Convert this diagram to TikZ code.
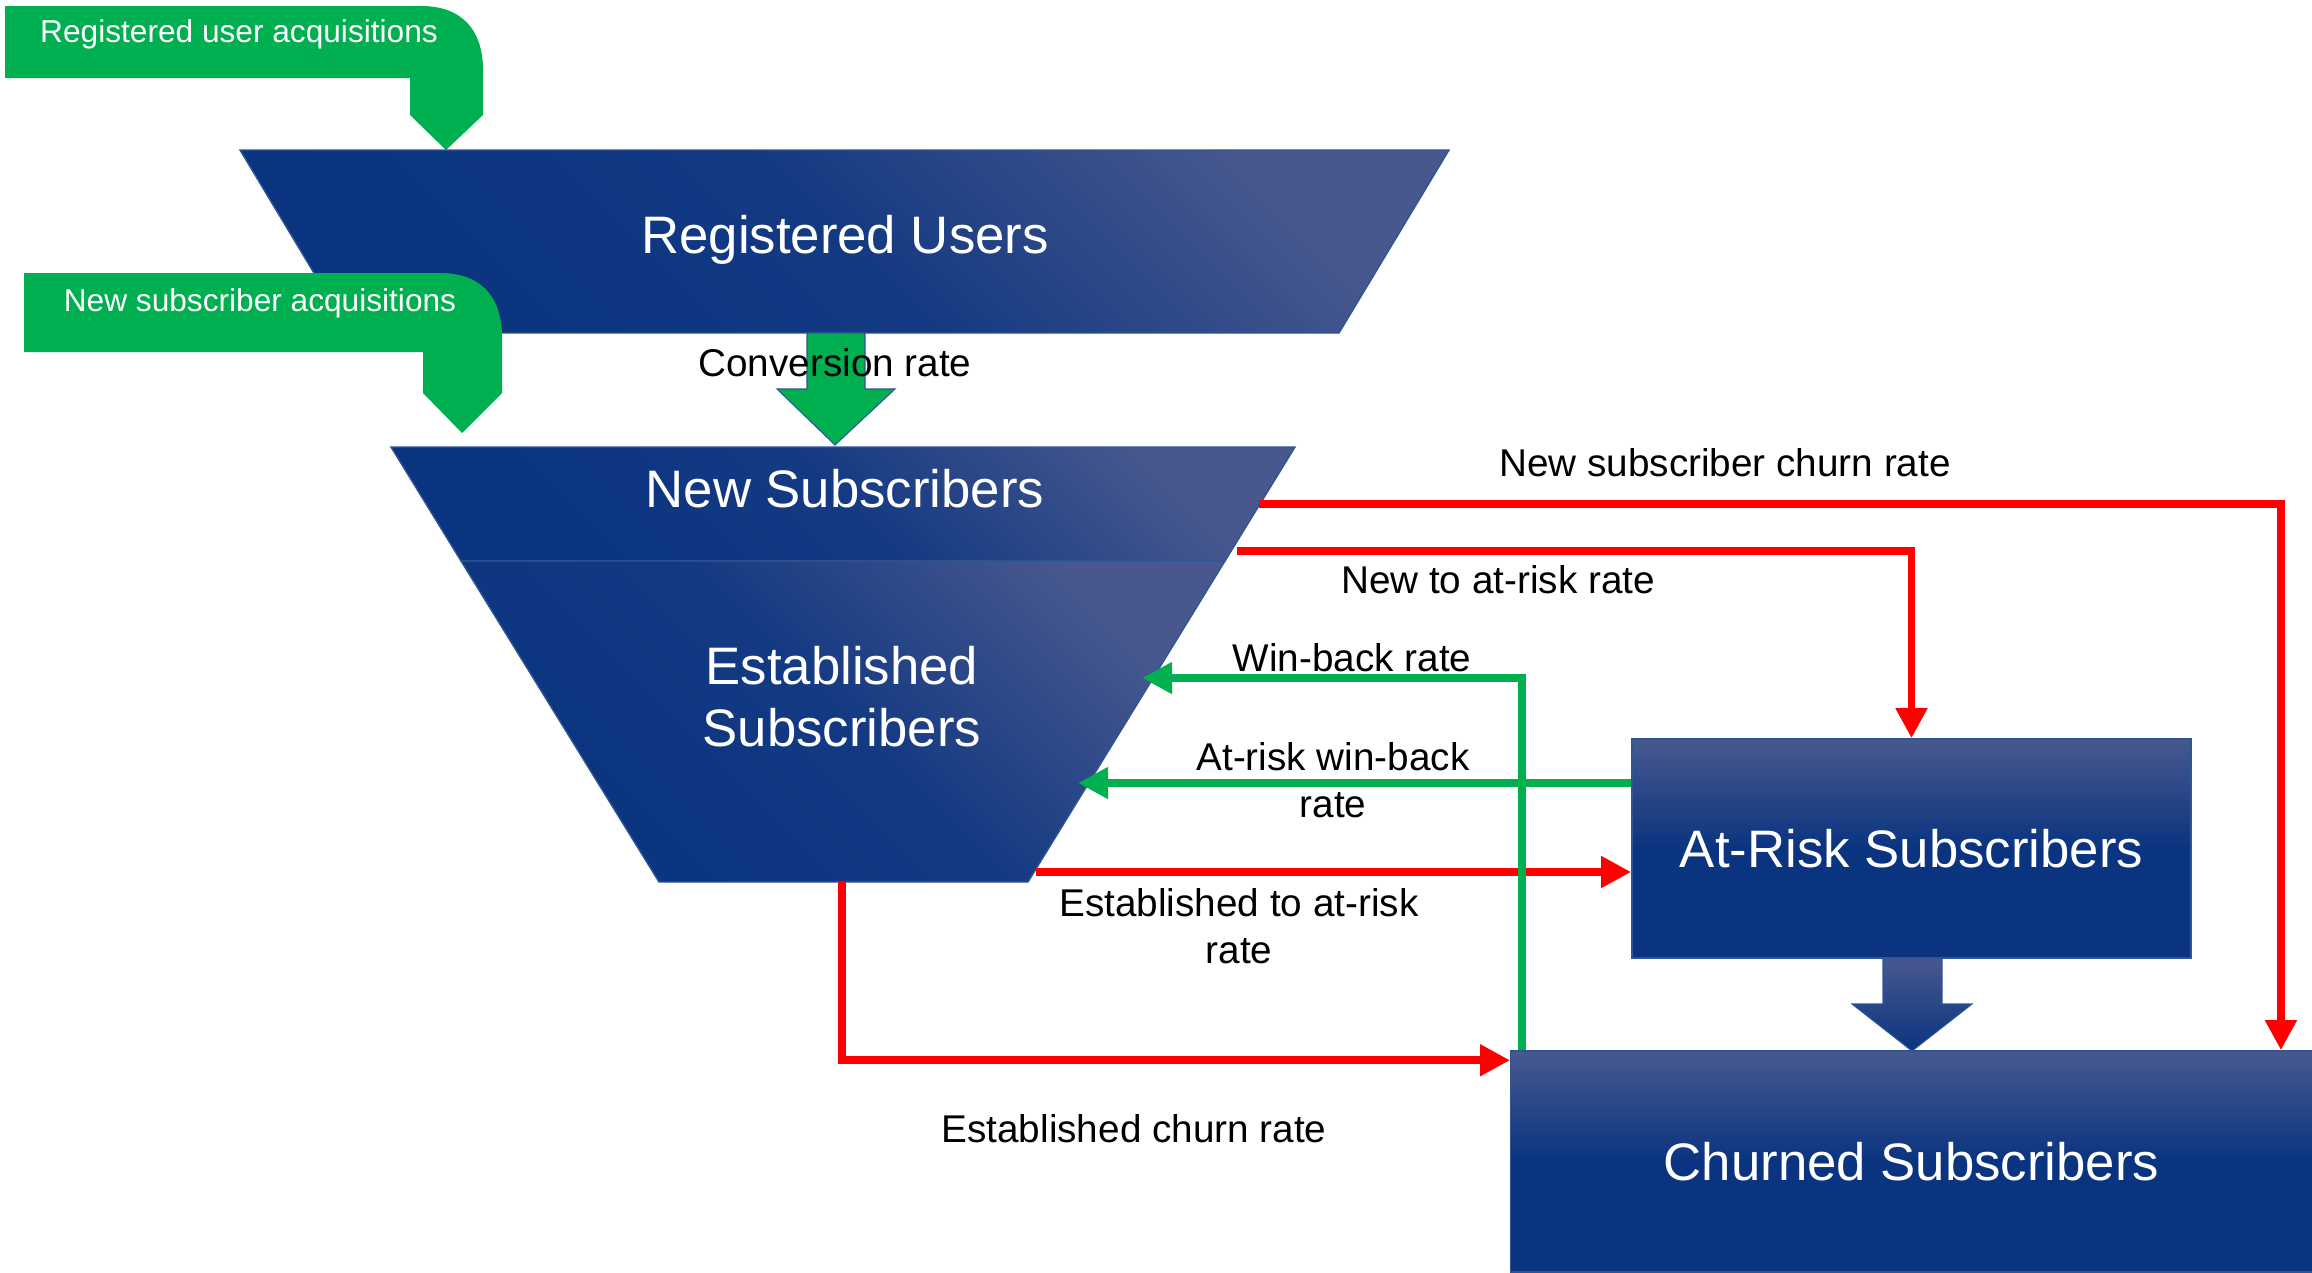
\documentclass[tikz,border=0pt]{standalone}
\usepackage{fontspec}
\setmainfont{Liberation Sans}
\usetikzlibrary{arrows.meta}
\definecolor{navy}{RGB}{10,52,128}
\definecolor{navylight}{RGB}{72,88,142}
\definecolor{navyedge}{RGB}{47,85,151}
\definecolor{accgreen}{RGB}{0,176,80}
\definecolor{accred}{RGB}{255,0,0}

\begin{document}
\begin{tikzpicture}[x=0.01cm, y=-0.01cm,
    funnel/.style={draw=navyedge, line width=0.4pt, top color=navy, bottom color=navylight, middle color=navy!85!navylight, shading angle=135},
    box/.style={draw=navyedge, line width=0.4pt, top color=navylight, bottom color=navy, middle color=navy, inner sep=0pt, text=white, font=\fontsize{15}{17.6}\selectfont},
    bigtext/.style={text=white, font=\fontsize{15}{17.6}\selectfont, align=center},
    ratetext/.style={font=\fontsize{11}{13.4}\selectfont, align=center},
    acqtext/.style={text=white, font=\fontsize{9}{11}\selectfont},
    redflow/.style={draw=accred, line width=2.2pt, -{Triangle[length=3mm,width=3mm]}},
    greenflow/.style={draw=accgreen, line width=2.2pt, -{Triangle[length=3mm,width=3mm]}}]
            \useasboundingbox (0,0) rectangle (2312,1272);
            \fill[accgreen] (5,6) -- (421,6) .. controls (462,6) and (483,30) .. (483,70) -- (483,115) -- (446,150) -- (410,115) -- (410,78) -- (5,78) -- cycle;
            \node[acqtext] (acqReg) at (239,34) {Registered user acquisitions};
            \path[funnel] (240,150) -- (1449,150) -- (1339,333) -- (350,333) -- cycle;
            \node[bigtext] (regUsers) at (845,240) {Registered Users};
            \fill[accgreen] (24,273) -- (440,273) .. controls (481,273) and (502,297) .. (502,337) -- (502,393) -- (462,433) -- (423,393) -- (423,352) -- (24,352) -- cycle;
            \node[acqtext] (acqNew) at (260,303) {New subscriber acquisitions};
            \path[fill=accgreen, draw=navyedge, line width=0.3pt] (807,333) -- (865,333) -- (865,389) -- (895,389) -- (835,445) -- (777,389) -- (807,389) -- cycle;
            \node[ratetext] (convLabel) at (835,363) {Conversion rate};
            \path[funnel] (391,447) -- (1295,447) -- (1225,561) -- (461,561) -- cycle;
            \path[funnel] (461,561) -- (1225,561) -- (1028,882) -- (659,882) -- cycle;
            \node[bigtext] (newSubs) at (845,489) {New Subscribers};
            \node[bigtext] (estSubs) at (842,697) {Established\\Subscribers};
            \node[box, minimum width=5.59cm, minimum height=2.19cm] (atRisk) at (1911.5,848.5) {At-Risk Subscribers};
            \node[box, minimum width=8.01cm, minimum height=2.21cm] (churned) at (1911.5,1161.5) {Churned Subscribers};
            \path[draw=navyedge, line width=0.3pt, top color=navylight, bottom color=navy] (1883,958) -- (1942,958) -- (1942,1004) -- (1972,1004) -- (1912,1051) -- (1852,1004) -- (1883,1004) -- cycle;
            \coordinate (newOut1) at (1259,504);
            \coordinate (newOut2) at (1237,551);
            \coordinate (estIn1) at (1142,678);
            \coordinate (estIn2) at (1078,783);
            \coordinate (estOut1) at (1036,872);
            \coordinate (estOut2) at (842,882);
            \draw[redflow] (newOut1) -| ([xshift=-0.32cm]churned.north east);
            \draw[redflow] (newOut2) -| (atRisk.north);
            \draw[redflow] (estOut1) -- (estOut1 -| atRisk.west);
            \draw[redflow] (estOut2) |- ([yshift=-0.1cm]churned.north west);
            \draw[greenflow] ([xshift=0.12cm]churned.north west) |- (estIn1);
            \draw[greenflow] (atRisk.west |- estIn2) -- (estIn2);
            \node[ratetext] (newChurnLabel) at (1725,463) {New subscriber churn rate};
            \node[ratetext] (newRiskLabel) at (1498,580) {New to at-risk rate};
            \node[ratetext] (winBackLabel) at (1352,658) {Win-back rate};
            \node[ratetext] (riskWinLabel) at (1333,780) {At-risk win-back\\rate};
            \node[ratetext] (estRiskLabel) at (1239,926) {Established to at-risk\\rate};
            \node[ratetext] (estChurnLabel) at (1134,1129) {Established churn rate};
\end{tikzpicture}
\end{document}
